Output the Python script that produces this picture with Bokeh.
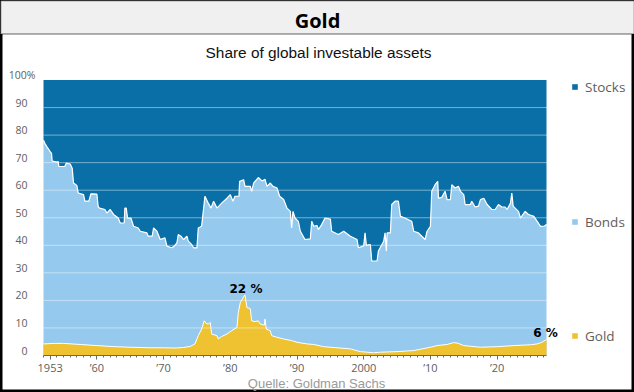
from bokeh.plotting import figure
from bokeh.models import FixedTicker, Label, BoxAnnotation, Legend, LegendItem, Range1d
from bokeh.embed import file_html
from bokeh.resources import INLINE

# ---- data ----
# top edge of the bonds band (= 100 - stocks share), % of global investable assets
boundary_years = [1952.0, 1952.2, 1952.5, 1953.0, 1953.2, 1953.3, 1954.0, 1954.2, 1954.3, 1955.2,
                  1955.4, 1956.0, 1956.3, 1956.5, 1957.0, 1957.2, 1958.0, 1958.2, 1958.8, 1959.1,
                  1960.0, 1960.2, 1960.4, 1961.2, 1961.5, 1962.0, 1962.5, 1963.2, 1963.5, 1964.1,
                  1964.2, 1964.4, 1964.6, 1965.1, 1965.5, 1966.2, 1966.5, 1967.5, 1967.7, 1968.3,
                  1968.5, 1969.0, 1969.5, 1970.2, 1970.5, 1971.2, 1971.6, 1972.0, 1972.2, 1972.6,
                  1973.0, 1973.5, 1973.7, 1974.2, 1974.5, 1975.0, 1975.2, 1975.7, 1976.2, 1976.7,
                  1977.1, 1977.5, 1978.0, 1978.7, 1979.5, 1980.0, 1980.4, 1980.7, 1981.3, 1981.4,
                  1982.0, 1982.2, 1983.0, 1983.2, 1983.5, 1984.2, 1984.8, 1985.2, 1985.5, 1986.0,
                  1986.4, 1987.0, 1987.4, 1988.0, 1988.5, 1989.0, 1989.2, 1989.4, 1989.7, 1990.2,
                  1990.5, 1991.2, 1992.0, 1992.2, 1992.5, 1993.0, 1993.2, 1993.7, 1994.2, 1995.0,
                  1995.2, 1996.2, 1997.0, 1998.0, 1999.0, 1999.2, 2000.0, 2000.2, 2000.4, 2001.0,
                  2001.2, 2002.0, 2002.2, 2003.0, 2003.2, 2003.4, 2003.5, 2004.0, 2004.2, 2004.7,
                  2005.2, 2005.5, 2006.2, 2006.7, 2007.2, 2007.5, 2008.2, 2008.7, 2009.2, 2009.5,
                  2010.0, 2010.2, 2010.7, 2011.1, 2011.2, 2011.7, 2012.2, 2012.5, 2013.0, 2013.2,
                  2013.7, 2014.2, 2014.5, 2015.0, 2015.2, 2016.0, 2016.2, 2016.7, 2017.2, 2017.5,
                  2018.0, 2018.5, 2019.2, 2019.7, 2020.2, 2020.7, 2021.2, 2021.5, 2022.0, 2022.2,
                  2022.4, 2023.2, 2023.5, 2024.2, 2024.7, 2025.5, 2026.0, 2026.5, 2027.1, 2027.4]
bonds_top = [78.1, 77.0, 75.8, 74.0, 73.4, 70.6, 70.2, 70.4, 68.6, 68.6,
             69.8, 69.5, 68.0, 62.6, 61.7, 59.0, 58.4, 56.0, 56.0, 58.7,
             58.6, 54.0, 53.5, 53.0, 51.7, 53.0, 51.2, 49.9, 48.1, 48.1,
             53.5, 53.5, 49.9, 49.9, 46.9, 46.3, 45.1, 44.5, 43.3, 43.3,
             46.3, 45.1, 42.1, 42.7, 39.7, 39.1, 39.7, 40.9, 43.9, 43.3,
             42.1, 43.3, 41.5, 40.3, 39.1, 39.1, 46.3, 46.9, 57.8, 55.3,
             53.5, 56.0, 53.5, 55.3, 57.1, 58.4, 56.0, 57.8, 57.8, 63.2,
             63.8, 61.4, 61.4, 59.6, 62.6, 64.6, 63.3, 64.0, 61.4, 62.6,
             61.4, 60.8, 57.8, 56.6, 53.5, 52.3, 46.3, 52.3, 49.9, 48.7,
             45.1, 42.1, 42.3, 48.7, 46.9, 47.2, 45.7, 47.5, 49.9, 49.5,
             45.1, 43.9, 45.1, 43.3, 42.1, 39.1, 39.8, 44.5, 40.0, 40.3,
             34.3, 34.3, 37.9, 41.5, 44.5, 37.9, 44.5, 44.5, 54.8, 56.0,
             56.0, 50.5, 49.9, 49.3, 48.7, 45.1, 44.5, 43.3, 42.1, 45.1,
             46.9, 59.6, 62.0, 63.2, 57.1, 57.4, 59.6, 56.6, 56.6, 62.0,
             60.8, 61.4, 59.6, 58.4, 54.8, 54.8, 56.0, 53.9, 54.2, 56.6,
             57.1, 54.8, 53.0, 53.0, 54.8, 53.9, 53.9, 53.0, 55.3, 59.0,
             54.2, 52.3, 49.9, 52.3, 51.2, 50.5, 48.7, 46.9, 47.0, 47.6]

# gold share, % of global investable assets
gold_years = [1952.0, 1953.7, 1955.0, 1957.5, 1960.0, 1962.7, 1965.0, 1968.0, 1970.0, 1971.7,
              1973.0, 1974.0, 1974.7, 1975.2, 1975.7, 1976.1, 1976.4, 1976.7, 1977.0, 1977.2,
              1978.0, 1978.2, 1978.7, 1979.5, 1980.2, 1981.0, 1981.2, 1981.5, 1982.0, 1982.2,
              1982.5, 1983.0, 1983.2, 1983.7, 1984.2, 1984.5, 1985.1, 1985.2, 1985.4, 1986.0,
              1986.2, 1987.0, 1988.0, 1989.2, 1990.0, 1991.5, 1992.5, 1994.0, 1996.0, 1998.0,
              1999.5, 2001.5, 2002.5, 2005.0, 2007.5, 2010.0, 2011.0, 2012.5, 2013.5, 2014.2,
              2015.0, 2017.5, 2020.0, 2022.5, 2025.0, 2026.0, 2026.7, 2027.4]
gold_share = [4.2, 4.4, 4.4, 4.0, 3.6, 3.2, 3.0, 2.8, 2.8, 2.7,
              2.9, 3.3, 4.2, 7.2, 9.6, 12.6, 11.6, 11.4, 12.0, 7.8,
              7.2, 6.0, 6.9, 7.8, 9.0, 10.2, 15.6, 19.2, 21.3, 22.0,
              17.4, 17.0, 12.6, 12.3, 12.6, 11.4, 11.0, 13.2, 9.6, 9.0,
              7.2, 6.6, 6.0, 5.4, 4.8, 4.2, 4.0, 3.2, 2.8, 2.4,
              1.4, 1.0, 1.2, 1.4, 1.8, 3.0, 3.6, 4.0, 4.7, 4.4,
              3.6, 3.0, 3.2, 3.6, 3.9, 4.2, 4.8, 5.8]

x_ticks = [1953, 1960, 1970, 1980, 1990, 2000, 2010, 2020]
x_tick_labels = ["1953", "\u201960", "\u201970", "\u201980", "\u201990", "2000", "\u201910", "\u201920"]
y_ticks = [0, 10, 20, 30, 40, 50, 60, 70, 80, 90]
y_tick_labels = ["0", "10", "20", "30", "40", "50", "60", "70", "80", "90"]
y_top_label = "100%"
series_names = ["Stocks", "Bonds", "Gold"]
peak_label = "22 %"
last_label = "6 %"

# ---- style / layout ----
C_STOCKS = "#0a6fa7"
C_BONDS = "#95c9ee"
C_GOLD = "#efc232"
GRAY = "#5e5e5e"

W, H = 634, 392
PL, PR, PT, PB = 43, 546, 79.5, 355      # plot region inside the canvas (px)
X0, X1 = boundary_years[0], boundary_years[-1]
xs = (X1 - X0) / (PR - PL)
ys = 100.0 / (PB - PT)
y0 = 0 - (H - PB) * ys
y1 = 100 + PT * ys
LAB_UP = 5 * ys   # tick labels sit ~5px above their grid lines


def fy(cy):
    return H - cy


p = figure(width=W, height=H, output_backend="svg", toolbar_location=None,
           x_range=Range1d(X0 - PL * xs, X1 + (W - PR) * xs), y_range=Range1d(y0, y1),
           min_border=0, border_fill_color="white", background_fill_color="white",
           outline_line_color="black", outline_line_width=4)
p.extra_y_ranges = {"labels": Range1d(y0 - LAB_UP, y1 - LAB_UP)}

# header band
p.add_layout(BoxAnnotation(left=0, right=W, top=fy(0), bottom=fy(33.5),
                           left_units="screen", right_units="screen",
                           top_units="screen", bottom_units="screen",
                           fill_color="#f0f0f0", fill_alpha=1,
                           line_color="black", line_width=2, level="underlay"))

r_st = p.varea(x=boundary_years, y1=bonds_top, y2=100, fill_color=C_STOCKS)
r_bo = p.varea(x=boundary_years, y1=0, y2=bonds_top, fill_color=C_BONDS)
p.line(boundary_years, bonds_top, line_color="white", line_width=1.2)
r_go = p.varea(x=gold_years, y1=0, y2=gold_share, fill_color=C_GOLD)
p.line(gold_years, gold_share, line_color="white", line_width=1)

# horizontal grid lines across the plot region
p.segment(x0=X0, x1=X1 + 0.6, y0=y_ticks[1:], y1=y_ticks[1:],
          line_color="white", line_alpha=0.45, line_width=1)

p.xgrid.visible = False
p.ygrid.visible = False

# axes, fixed inside the canvas
xa = p.xaxis[0]
xa.fixed_location = 0
xa.bounds = (X0, X1)
xa.ticker = FixedTicker(ticks=x_ticks, minor_ticks=list(range(1952, 2028)))
xa.major_label_overrides = dict(zip(x_ticks, x_tick_labels))
xa.axis_line_color = "#6a6a6a"
xa.major_tick_line_color = "#6a6a6a"
xa.minor_tick_line_color = "#6a6a6a"
xa.major_tick_in = 0
xa.major_tick_out = 4
xa.minor_tick_in = 0
xa.minor_tick_out = 2
xa.major_label_standoff = 0
xa.major_label_text_font = "Open Sans"
xa.major_label_text_font_size = "11px"
xa.major_label_text_color = GRAY

ya = p.yaxis[0]
ya.y_range_name = "labels"
ya.fixed_location = X0
ya.ticker = FixedTicker(ticks=y_ticks)
ya.major_label_overrides = dict(zip(y_ticks, y_tick_labels))
ya.axis_line_color = None
ya.major_tick_line_color = None
ya.minor_tick_line_color = None
ya.major_tick_out = 0
ya.major_label_standoff = 16
ya.major_label_text_font = "Open Sans"
ya.major_label_text_font_size = "10.5px"
ya.major_label_text_color = GRAY

p.add_layout(Label(x=X0, y=100, x_offset=-8, y_offset=5, text=y_top_label,
                   text_align="right", text_baseline="middle", text_font="Open Sans",
                   text_font_size="10.5px", text_color=GRAY))

# texts
p.add_layout(Label(x=317, y=fy(19.5), x_units="screen", y_units="screen", text="Gold",
                   text_align="center", text_baseline="middle", text_font="Open Sans",
                   text_font_style="bold", text_font_size="20px", text_color="black"))
p.add_layout(Label(x=318, y=fy(52), x_units="screen", y_units="screen",
                   text="Share of global investable assets",
                   text_align="center", text_baseline="middle", text_font="Liberation Sans",
                   text_font_size="15.4px", text_color="#111111"))
p.add_layout(Label(x=316, y=fy(383), x_units="screen", y_units="screen",
                   text="Quelle: Goldman Sachs",
                   text_align="center", text_baseline="middle", text_font="Liberation Sans",
                   text_font_size="13px", text_color="#9a9a9a"))

p.add_layout(Label(x=gold_years[gold_share.index(max(gold_share))], y=max(gold_share),
                   y_offset=-1, x_offset=1,
                   text=peak_label, text_align="center", text_baseline="bottom",
                   text_font="DejaVu Sans", text_font_style="bold", text_font_size="12px",
                   text_color="black"))
p.add_layout(Label(x=gold_years[-1], y=gold_share[-1], y_offset=0, x_offset=-1,
                   text=last_label, text_align="center", text_baseline="bottom",
                   text_font="DejaVu Sans", text_font_style="bold", text_font_size="12px",
                   text_color="black"))

# legends (one per series, beside the chart)
legend_pos = [(571, fy(95.5)), (571, fy(230.5)), (571, fy(344.5))]
for r, name, loc in zip([r_st, r_bo, r_go], series_names, legend_pos):
    lg = Legend(items=[LegendItem(label=name, renderers=[r])], location=loc,
                padding=0, margin=0, spacing=0, border_line_color=None,
                background_fill_alpha=0, glyph_width=7, glyph_height=7,
                label_standoff=7, label_height=14, label_width=10,
                label_text_font="Open Sans", label_text_font_size="13.5px",
                label_text_color=GRAY)
    p.add_layout(lg)

open("out.html", "w").write(file_html(p, INLINE))
